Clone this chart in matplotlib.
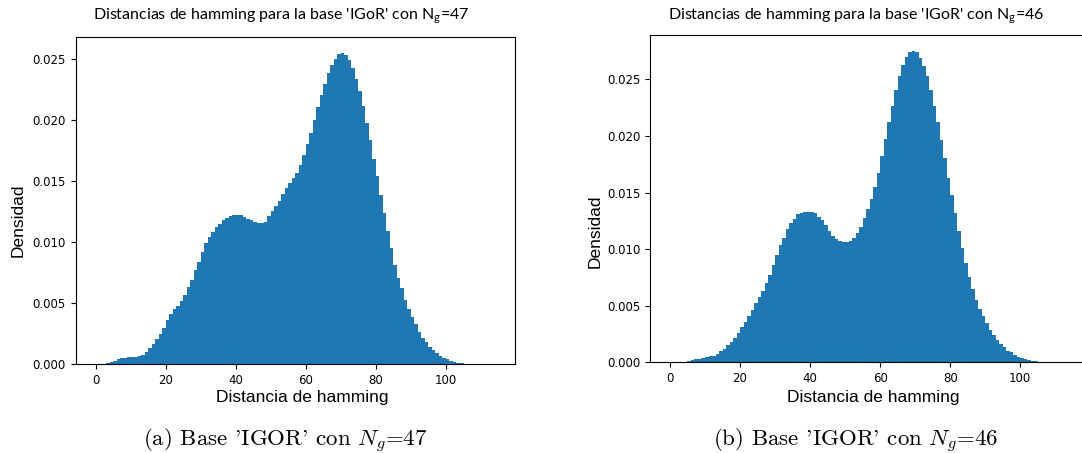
import matplotlib.pyplot as plt
import numpy as np

plt.rcParams['mathtext.fontset'] = 'custom'
plt.rcParams['mathtext.rm'] = 'Lato'
plt.rcParams['mathtext.it'] = 'Lato:italic'

# distancias 0..113, densidad por bin de ancho 1
dist = np.arange(0, 114)

dens_47 = [0, 0, 0, 0.0001, 0.00018, 0.0003, 0.00044, 0.0005, 0.00055, 0.00058,
           0.0006, 0.00063, 0.00064, 0.00076, 0.00098, 0.0013, 0.0017, 0.0021, 0.0025, 0.0030,
           0.0036, 0.0041, 0.0045, 0.0048, 0.0052, 0.0057, 0.0063, 0.0069, 0.0077, 0.0084,
           0.0092, 0.0099, 0.0104, 0.0108, 0.0112, 0.0115, 0.0118, 0.0120, 0.01215, 0.01223,
           0.01223, 0.0122, 0.01206, 0.0119, 0.01179, 0.01163, 0.01152, 0.01152, 0.01166, 0.0121,
           0.0125, 0.01294, 0.01335, 0.01389, 0.01443, 0.01479, 0.0152, 0.01566, 0.01629, 0.0171,
           0.018, 0.01895, 0.01996, 0.02105, 0.022, 0.02296, 0.0238, 0.0245, 0.02495, 0.0254,
           0.02549, 0.0253, 0.0249, 0.0242, 0.02336, 0.02236, 0.0211, 0.01976, 0.01838, 0.0168,
           0.01536, 0.01383, 0.01238, 0.01092, 0.00953, 0.00815, 0.00708, 0.0062, 0.00526, 0.00454,
           0.00387, 0.00326, 0.00265, 0.00219, 0.0018, 0.00144, 0.00117, 0.0009, 0.0007, 0.00052,
           0.0004, 0.00027, 0.00019, 0.00012, 0.00007, 0.00004, 0.00003, 0, 0, 0,
           0, 0, 0, 0]

dens_46 = [0, 0, 0, 0, 0, 0.00009, 0.0002, 0.00026, 0.00032, 0.0004,
           0.00048, 0.00053, 0.00056, 0.0007, 0.00097, 0.00118, 0.00153, 0.00183, 0.00218, 0.00262,
           0.00309, 0.00356, 0.00409, 0.00462, 0.00521, 0.00574, 0.0063, 0.00698, 0.00771, 0.0086,
           0.00948, 0.01037, 0.01101, 0.01178, 0.01228, 0.01266, 0.0131, 0.01322, 0.01331, 0.01331,
           0.01325, 0.0132, 0.01287, 0.01257, 0.01213, 0.01163, 0.01119, 0.01087, 0.01072, 0.01066,
           0.01063, 0.01072, 0.01098, 0.01145, 0.01198, 0.01278, 0.01352, 0.01446, 0.01552, 0.01675,
           0.01823, 0.01973, 0.02126, 0.02267, 0.02406, 0.0253, 0.02627, 0.027, 0.02739, 0.02753,
           0.02739, 0.02694, 0.02618, 0.0253, 0.02406, 0.02267, 0.02126, 0.01964, 0.01808, 0.01631,
           0.01475, 0.01319, 0.0116, 0.0101, 0.0088, 0.00754, 0.00645, 0.00554, 0.00474, 0.00409,
           0.0035, 0.00286, 0.00241, 0.00197, 0.00162, 0.00133, 0.00103, 0.00088, 0.00065, 0.0005,
           0.00038, 0.00029, 0.0002, 0.00015, 0.00009, 0.00006, 0, 0, 0, 0,
           0, 0, 0, 0]

W, H = 1082, 453
fig = plt.figure(figsize=(W / 100, H / 100), dpi=100)

def px(x0, y0, x1, y1):
    return [x0 / W, 1 - y1 / H, (x1 - x0) / W, (y1 - y0) / H]

ax1 = fig.add_axes(px(75.7, 37, 515, 364.3))
ax2 = fig.add_axes(px(650, 35.3, 1089.3, 362.3))

for ax, dens in [(ax1, dens_47), (ax2, dens_46)]:
    ax.bar(dist, dens, width=1, align='edge', color='#1f77b4', linewidth=0)
    ax.set_xticks([0, 20, 40, 60, 80, 100])
    ax.tick_params(labelsize=8.5)
    ax.yaxis.set_major_formatter(plt.FormatStrFormatter('%.3f'))

titles = ["Distancias de hamming para la base 'IGoR' con N$_{\\mathrm{g}}$=47",
          "Distancias de hamming para la base 'IGoR' con N$_{\\mathrm{g}}$=46"]
captions = ["(a) Base 'IGOR' con $N_g$=47", "(b) Base 'IGOR' con $N_g$=46"]

fig.text(93 / W, 1 - 20 / H, titles[0], family='Lato', fontsize=11.5, va='baseline', ha='left')
fig.text(668 / W, 1 - 20 / H, titles[1], family='Lato', fontsize=11.5, va='baseline', ha='left')

for xc in [302, 873]:
    fig.text(xc / W, 1 - 402 / H, 'Distancia de hamming', family='Liberation Sans',
             fontsize=12.5, ha='center', va='baseline')

fig.text(18 / W, 1 - 220 / H, 'Densidad', family='Liberation Sans', fontsize=12.5,
         rotation=90, ha='center', va='center')
fig.text(595 / W, 1 - 231 / H, 'Densidad', family='Liberation Sans', fontsize=12.5,
         rotation=90, ha='center', va='center')

fig.text(285 / W, 1 - 446 / H, captions[0], family='cmr10', math_fontfamily='cm',
         fontsize=16.5, ha='center', va='baseline')
fig.text(856 / W, 1 - 446 / H, captions[1], family='cmr10', math_fontfamily='cm',
         fontsize=16.5, ha='center', va='baseline')

fig.savefig('out.png', dpi=100)
